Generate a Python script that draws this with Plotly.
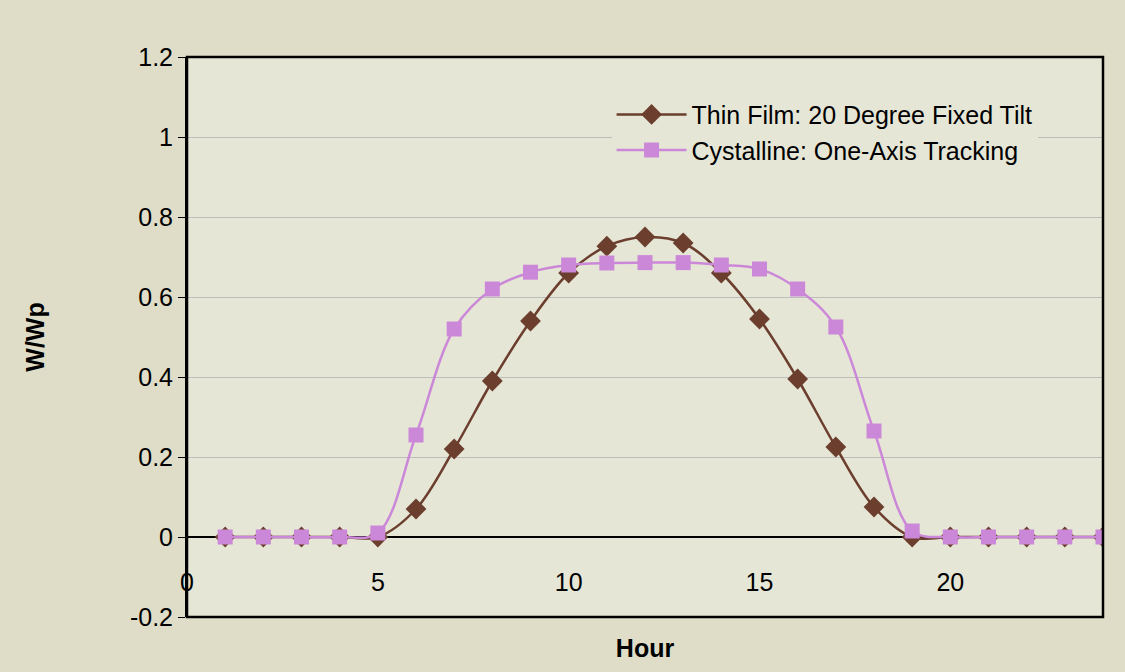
import plotly.graph_objects as go

hours = list(range(1, 25))
thin_film = [0, 0, 0, 0, 0, 0.07, 0.22, 0.39, 0.54, 0.66, 0.727, 0.75, 0.735, 0.66,
             0.545, 0.395, 0.225, 0.075, 0, 0, 0, 0, 0, 0]
crystalline = [0, 0, 0, 0, 0.01, 0.255, 0.52, 0.62, 0.662, 0.68, 0.685, 0.686, 0.686,
               0.68, 0.67, 0.62, 0.525, 0.265, 0.015, 0, 0, 0, 0, 0]
x_ticks = [0, 5, 10, 15, 20]
y_ticks = [-0.2, 0, 0.2, 0.4, 0.6, 0.8, 1.0, 1.2]
y_labels = ["-0.2", "0", "0.2", "0.4", "0.6", "0.8", "1", "1.2"]

FONT = "Liberation Sans, Arial, sans-serif"
FS = 25
BROWN = "#6B3E2E"
VIOLET = "#CC88D8"

fig = go.Figure()
fig.add_trace(go.Scatter(
    x=hours, y=thin_film, name="Thin Film: 20 Degree Fixed Tilt",
    mode="lines+markers",
    line=dict(color=BROWN, width=2.5, shape="spline", smoothing=1),
    marker=dict(symbol="diamond", size=16, color=BROWN),
))
fig.add_trace(go.Scatter(
    x=hours, y=crystalline, name="Cystalline: One-Axis Tracking",
    mode="lines+markers",
    line=dict(color=VIOLET, width=2.5, shape="spline", smoothing=1),
    marker=dict(symbol="square", size=15, color=VIOLET),
))

fig.update_layout(
    width=1125, height=672,
    margin=dict(l=187, r=22, t=57, b=55),
    paper_bgcolor="#DFDDC8",
    plot_bgcolor="#E6E6D6",
    font=dict(family=FONT, size=FS, color="black"),
    showlegend=True,
    legend=dict(
        x=0.4635, y=0.938, xanchor="left", yanchor="top",
        bgcolor="#E6E6D6", borderwidth=0,
        font=dict(family=FONT, size=FS, color="black"),
        itemwidth=70, tracegroupgap=0,
    ),
    xaxis=dict(
        range=[0, 24], tickvals=x_ticks,
        anchor="free", position=1 / 7, automargin=False,
        showline=False, showgrid=False, zeroline=False,
        ticks="", ticklabelstandoff=28,
        tickfont=dict(family=FONT, size=FS, color="black"),
        title=dict(text="<b>Hour</b>", font=dict(family=FONT, size=FS, color="black"), standoff=44),
    ),
    yaxis=dict(
        range=[-0.2, 1.2], tickvals=y_ticks, ticktext=y_labels, automargin=False,
        showline=True, linecolor="black", linewidth=2,
        ticks="outside", ticklen=7, tickcolor="black", tickwidth=1,
        showgrid=True, gridcolor="#BDBDBD", gridwidth=1,
        zeroline=True, zerolinecolor="black", zerolinewidth=1.5,
        tickfont=dict(family=FONT, size=FS, color="black"),
        title=dict(text="<b>W/Wp</b>", font=dict(family=FONT, size=FS, color="black"), standoff=78),
    ),
    shapes=[dict(type="rect", xref="paper", yref="paper", x0=0, y0=0, x1=1, y1=1,
                 line=dict(color="black", width=2.5), layer="above")],
)

fig.write_html("out.html")
